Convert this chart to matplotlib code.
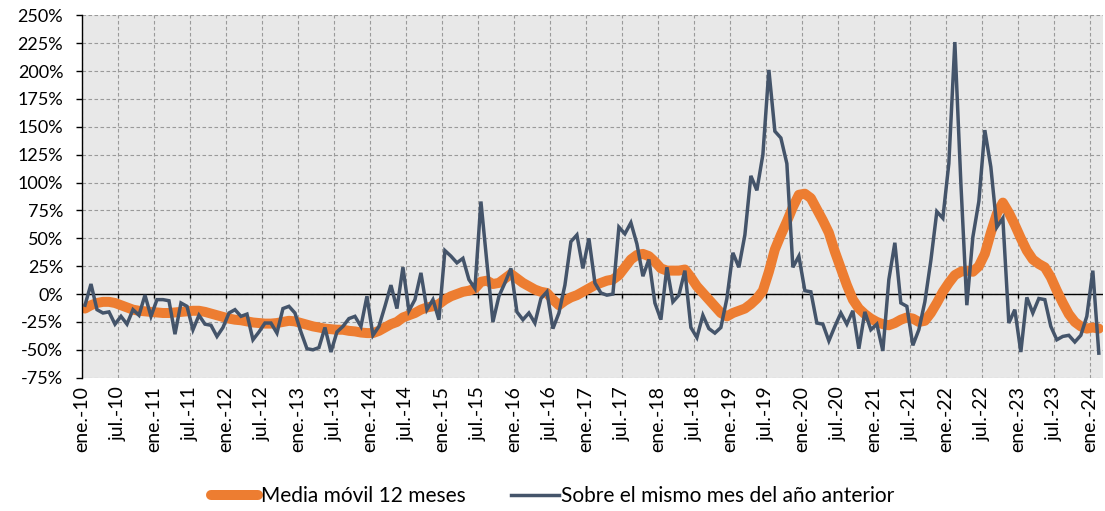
import matplotlib
matplotlib.use('Agg')
import matplotlib.pyplot as plt
import numpy as np

# monthly data, ene-10 .. feb-24
yoy = [-10, 9, -14, -17, -16, -27, -20, -27, -14, -19, -1, -20,
       -5, -5, -6, -36, -8, -11, -32, -19, -27, -28, -38, -30,
       -17, -14, -20, -18, -41, -34, -26, -26, -35, -13, -11, -17,
       -34, -49, -50, -48, -30, -52, -34, -29, -22, -20, -29, -2,
       -37, -29, -11, 8, -13, 24, -15, -5, 19, -14, -5, -23,
       39, 34, 28, 32, 13, 5, 83, 28, -25, -2, 10, 23,
       -16, -23, -17, -26, -4, 2, -31, -17, 8, 47, 53, 23,
       50, 10, 1, -1, 0, 60, 54, 64, 45, 16, 31, -8,
       -23, 24, -7, -1, 21, -30, -39, -19, -31, -35, -30, -4,
       37, 24, 53, 106, 93, 125, 201, 146, 140, 117, 24, 34,
       3, 2, -26, -27, -42, -29, -17, -27, -15, -49, -16, -32,
       -27, -51, 13, 46, -8, -11, -46, -32, -7, 30, 74, 68,
       117, 226, 100, -10, 51, 83, 147, 114, 60, 68, -26, -14,
       -52, -3, -17, -4, -5, -29, -41, -38, -37, -43, -37, -20,
       21, -53]

ma12 = [-13, -10, -8, -7, -7, -8, -10, -12, -14, -15, -15.5, -16,
        -16.5, -17, -17, -16.5, -16, -15.5, -15, -15, -16, -17.5, -19, -20.5,
        -22, -23, -23.5, -24.5, -25.5, -26, -26.5, -26.5, -26, -25, -24, -24.5,
        -26, -27.5, -29, -30, -31, -31.5, -32, -32, -33, -33.5, -34.5, -35,
        -35, -33, -30, -27, -25, -21, -19, -17, -14, -12, -11, -9,
        -5, -2, 0, 2, 3, 5, 11, 12, 9, 10, 14, 18,
        14, 10, 7, 4, 2, 1, -5, -10, -6, -3, -1, 2,
        5, 8, 10, 12, 13, 17, 24, 31, 35, 36, 34, 29,
        23, 21, 21, 21, 22, 15, 7, 1, -5, -11, -17, -20,
        -17, -15, -13, -9, -4, 3, 20, 40, 53, 65, 78, 89,
        90, 86, 76, 66, 55, 38, 23, 8, -5, -13, -18, -22,
        -25, -27, -28, -26, -23, -21, -22, -25, -24, -17, -8, 2,
        10, 17, 20, 21, 20, 25, 36, 55, 72, 82, 73, 62,
        50, 39, 31, 27, 24, 15, 3, -8, -18, -25, -29, -31,
        -30, -31]

years = range(10, 25)
tick_labels = []
for y in years:
    tick_labels.append(f'ene.-{y}')
    tick_labels.append(f'jul.-{y}')
tick_labels = tick_labels[:29]

ORANGE = '#ED7D31'
DARK = '#44546A'

plt.rcParams['font.family'] = ['Lato', 'DejaVu Sans']

fig = plt.figure(figsize=(11.05, 5.11), dpi=100)
ax = fig.add_axes([0.0742, 0.2609, 0.924, 0.7092])
ax.set_facecolor('#E8E8E8')

x = np.arange(len(yoy)) + 0.5
ticks = np.arange(len(tick_labels)) * 6

ax.axhline(0, color='black', lw=1.0, zorder=1.5)
ax.vlines(ticks[1:], -3.5, 0, color='black', lw=1.0, zorder=1.5)

ax.plot(x, ma12, color=ORANGE, lw=7.2, solid_capstyle='round', solid_joinstyle='round',
        label='Media móvil 12 meses', zorder=2)
ax.plot(x, yoy, color=DARK, lw=2.5, solid_joinstyle='miter',
        label='Sobre el mismo mes del año anterior', zorder=3)

ax.set_xlim(0, 170.2)
ax.set_ylim(-75, 250)
ax.set_yticks(np.arange(-75, 251, 25))
ax.set_yticklabels([f'{v}%' for v in range(-75, 251, 25)])
ax.set_xticks(ticks)
ax.set_xticklabels(tick_labels, rotation=90)

ax.grid(True, color='#9A9A9A', lw=0.8, linestyle=(0, (3.2, 2.2)))
ax.set_axisbelow(True)
for s in ['top', 'right', 'bottom']:
    ax.spines[s].set_visible(False)
ax.spines['left'].set_color('black')
ax.spines['left'].set_linewidth(1.0)
ax.tick_params(axis='y', length=4.5, width=1.0, labelsize=13, pad=9)
ax.tick_params(axis='x', length=0, labelsize=14, pad=6)

fig.legend(loc='lower center', bbox_to_anchor=(0.5, -0.027), ncol=2, frameon=False,
           fontsize=15, handlelength=2.3, handletextpad=0.1, columnspacing=2.2)

fig.savefig('out.png', dpi=100)
